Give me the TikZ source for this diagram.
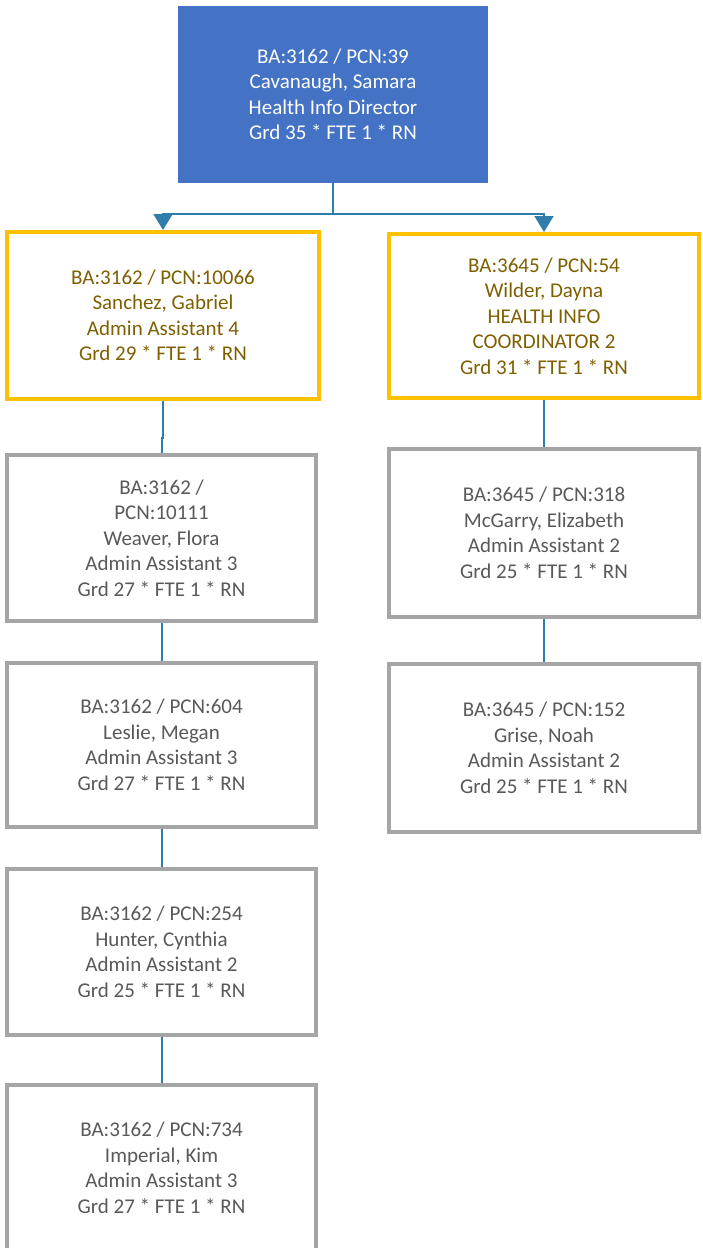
\documentclass[tikz,border=0pt]{standalone}
\usepackage{fontspec}
\setmainfont{Carlito}
\usetikzlibrary{arrows.meta,calc}
\definecolor{topblue}{HTML}{4472C4}
\definecolor{gold}{HTML}{FFC000}
\definecolor{goldtext}{HTML}{7F6000}
\definecolor{greyline}{HTML}{A5A5A5}
\definecolor{greytext}{HTML}{595959}
\definecolor{conn}{HTML}{2E7DAA}
\tikzset{
  box/.style={rectangle, align=center, inner sep=0pt, font=\fontsize{21}{25.5}\selectfont},
  topbox/.style={box, fill=topblue, text=white, minimum width=310pt, minimum height=177pt},
  goldbox/.style={box, draw=gold, line width=4pt, text=goldtext, fill=white},
  greybox/.style={box, draw=greyline, line width=4pt, text=greytext, fill=white},
  conline/.style={draw=conn, line width=2pt},
  arr/.style={conline, -{Triangle[width=19pt,length=16pt]}}
}
\begin{document}
\begin{tikzpicture}[x=1pt,y=-1pt]
\path[use as bounding box] (0,0) rectangle (702,1248);
\fill[white] (0,0) rectangle (702,1248);
\begin{scope}
\clip (0,0) rectangle (702,1248);
\node[topbox] (top) at (333,94.5) {BA:3162 / PCN:39\\Cavanaugh, Samara\\Health Info Director\\Grd 35 * FTE 1 * RN};
\node[goldbox, minimum width=312pt, minimum height=167pt] (ly) at (163,315.5) {BA:3162 / PCN:10066\\Sanchez, Gabriel\\Admin Assistant 4\\Grd 29 * FTE 1 * RN};
\node[goldbox, minimum width=310pt, minimum height=164pt] (ry) at (544,316) {BA:3645 / PCN:54\\Wilder, Dayna\\HEALTH INFO\\COORDINATOR 2\\Grd 31 * FTE 1 * RN};
\node[greybox, minimum width=309pt, minimum height=166pt] (g1) at (161.5,538) {BA:3162 /\\PCN:10111\\Weaver, Flora\\Admin Assistant 3\\Grd 27 * FTE 1 * RN};
\node[greybox, minimum width=309pt, minimum height=164pt] (g2) at (161.5,745) {BA:3162 / PCN:604\\Leslie, Megan\\Admin Assistant 3\\Grd 27 * FTE 1 * RN};
\node[greybox, minimum width=309pt, minimum height=166pt] (g3) at (161.5,952) {BA:3162 / PCN:254\\Hunter, Cynthia\\Admin Assistant 2\\Grd 25 * FTE 1 * RN};
\node[greybox, minimum width=309pt, minimum height=166pt] (g4) at (161.5,1168) {BA:3162 / PCN:734\\Imperial, Kim\\Admin Assistant 3\\Grd 27 * FTE 1 * RN};
\node[greybox, minimum width=310pt, minimum height=168pt] (r1) at (544,533) {BA:3645 / PCN:318\\McGarry, Elizabeth\\Admin Assistant 2\\Grd 25 * FTE 1 * RN};
\node[greybox, minimum width=310pt, minimum height=168pt] (r2) at (544,748) {BA:3645 / PCN:152\\Grise, Noah\\Admin Assistant 2\\Grd 25 * FTE 1 * RN};
\end{scope}
\coordinate (hub) at ($(top.south)+(0,31)$);
\draw[conline] (top.south) -- (hub);
\draw[arr] (hub) -| (ly.north);
\draw[arr] (hub) -| (ry.north);
\draw[conline] (ly.south) -- ++(0,37) -| (g1.north);
\draw[conline] (g1.south) -- (g2.north);
\draw[conline] (g2.south) -- (g3.north);
\draw[conline] (g3.south) -- (g4.north);
\draw[conline] (ry.south) -- (r1.north);
\draw[conline] (r1.south) -- (r2.north);
\end{tikzpicture}
\end{document}
